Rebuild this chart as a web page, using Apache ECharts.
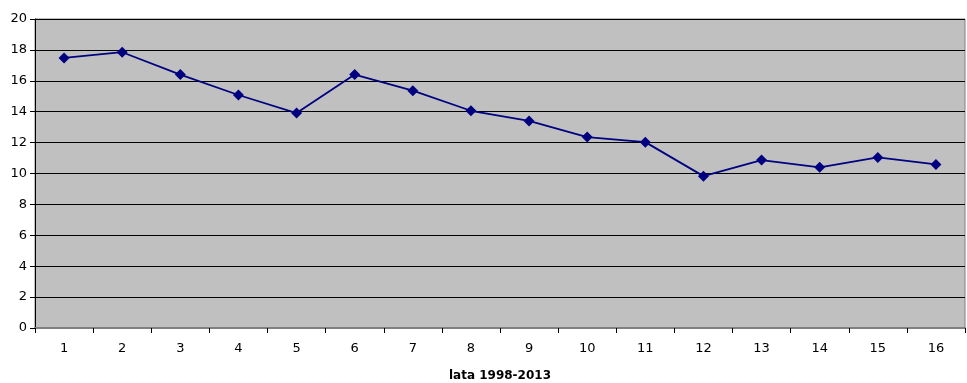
<!DOCTYPE html>
<html>
<head>
<meta charset="utf-8">
<script src="https://cdn.jsdelivr.net/npm/echarts@6/dist/echarts.min.js"></script>
<style>
  html, body { margin: 0; padding: 0; background: #fff; }
  #chart { width: 967px; height: 383px; }
</style>
</head>
<body>
<div id="chart"></div>
<script>
// Categories (years numbered 1..16) and the series values
const categories = ['1','2','3','4','5','6','7','8','9','10','11','12','13','14','15','16'];
const values = [17.48, 17.85, 16.40, 15.08, 13.91, 16.40, 15.36, 14.06, 13.40, 12.36, 12.03, 9.83, 10.87, 10.40, 11.04, 10.59];
const axisTitle = 'lata 1998-2013';

const chart = echarts.init(document.getElementById('chart'), null, { renderer: 'canvas' });
chart.setOption({
  animation: false,
  grid: {
    left: 35, right: 2, top: 19, bottom: 55,
    outerBoundsMode: 'none',
    containLabel: false,
    show: true, backgroundColor: '#c0c0c0', borderColor: '#808080', borderWidth: 1
  },
  xAxis: {
    type: 'category',
    data: categories,
    boundaryGap: true,
    name: axisTitle,
    nameLocation: 'middle',
    nameGap: 42,
    nameTextStyle: { fontFamily: 'DejaVu Sans', fontSize: 12, fontWeight: 'bold', color: '#000' },
    axisLine: { lineStyle: { color: '#808080', width: 2 } },
    axisTick: { show: true, alignWithLabel: false, length: 5, lineStyle: { color: '#000' } },
    axisLabel: { fontFamily: 'DejaVu Sans', fontSize: 13, color: '#000', margin: 14 }
  },
  yAxis: {
    type: 'value',
    min: 0, max: 20, interval: 2,
    axisLine: { show: true, lineStyle: { color: '#000' } },
    axisTick: { show: true, length: 5, lineStyle: { color: '#000' } },
    axisLabel: { fontFamily: 'DejaVu Sans', fontSize: 13, color: '#000', margin: 8 },
    splitLine: { show: true, lineStyle: { color: '#000', width: 1 } }
  },
  series: [{
    type: 'line',
    data: values,
    symbol: 'diamond',
    symbolSize: 11,
    lineStyle: { color: '#000080', width: 1.8 },
    itemStyle: { color: '#000080' }
  }]
});
</script>
</body>
</html>
